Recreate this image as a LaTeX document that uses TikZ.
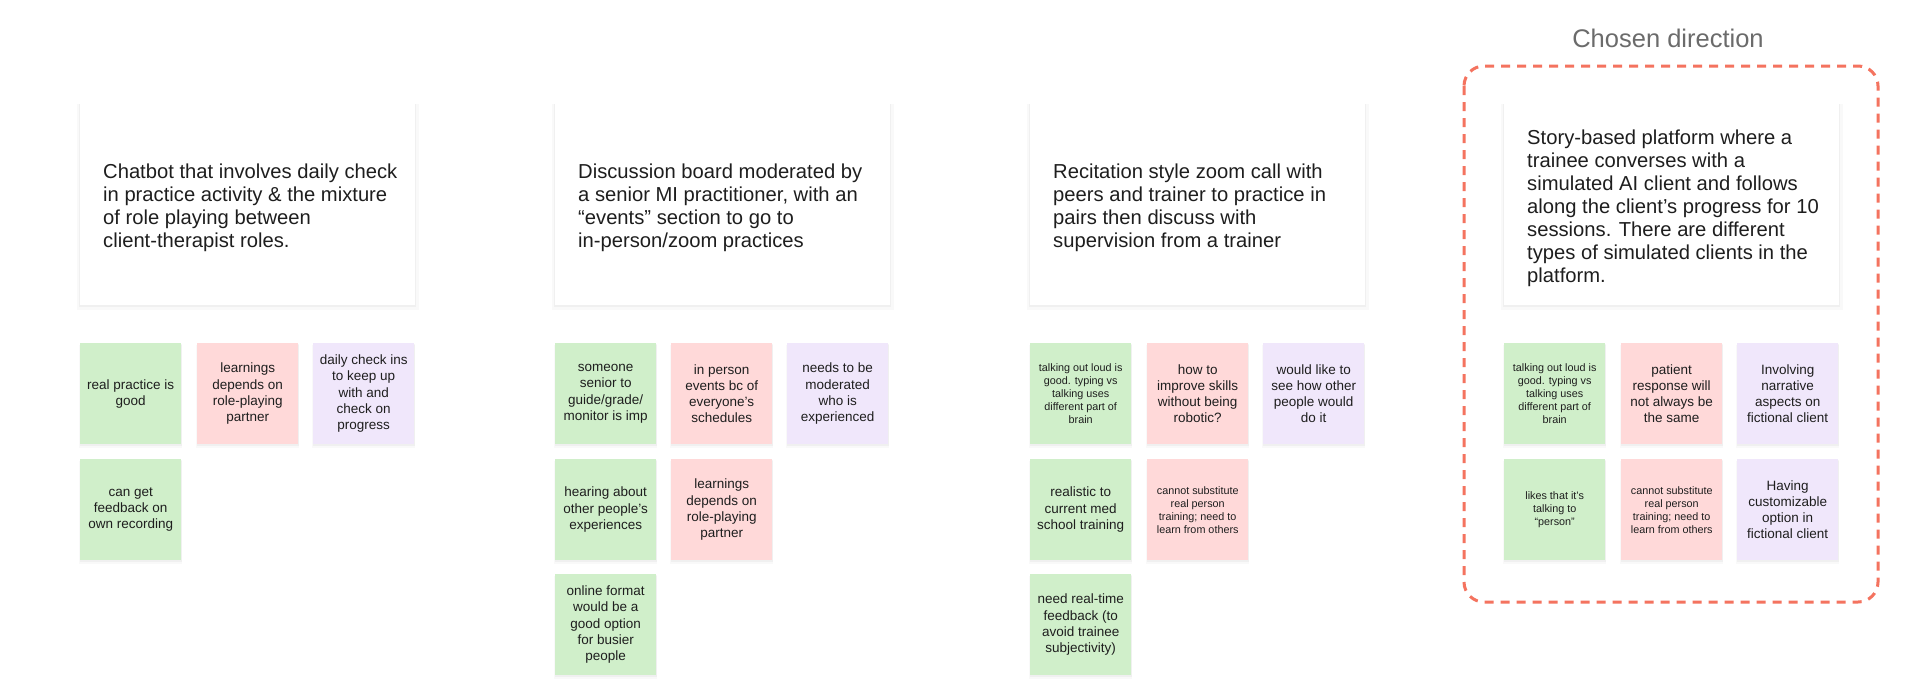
\documentclass[tikz,border=0pt]{standalone}
\usepackage{fontspec}
\setmainfont{Liberation Sans}
\usetikzlibrary{shadows}
\definecolor{stgreen}{HTML}{D0EFCA}
\definecolor{stpink}{HTML}{FFD9D9}
\definecolor{stpurple}{HTML}{F0E7FB}
\definecolor{dashred}{HTML}{F4735F}
\definecolor{txt}{HTML}{1E1E1E}
\definecolor{headgrey}{HTML}{6B6B6B}
\tikzset{
  softshadow/.style={
    general shadow={fill=black, opacity=0.025, shadow yshift=-3pt, shadow scale=1.02},
    general shadow={fill=black, opacity=0.035, shadow yshift=-1.5pt, shadow scale=1.006}},
  card/.style={rectangle, anchor=north west, fill=white, minimum width=335pt, minimum height=202pt, inner sep=0pt, softshadow},
  cardtext/.style={anchor=west, align=left, inner sep=0pt, text=txt, font=\fontsize{20.2}{23}\selectfont},
  sticky/.style={rectangle, anchor=north west, minimum width=101pt, minimum height=101pt, inner sep=0pt,
    align=center, text=txt, font=\fontsize{13.5}{16.3}\selectfont, softshadow},
  small/.style={font=\fontsize{10.8}{13}\selectfont},
  sg/.style={sticky, fill=stgreen},
  sp/.style={sticky, fill=stpink},
  su/.style={sticky, fill=stpurple},
}
\begin{document}
\begin{tikzpicture}[x=1pt, y=-1pt]
\useasboundingbox (0,0) rectangle (1920,699);
\fill[white] (0,0) rectangle (1920,699);

% Column 1
\node[card] (c1) at (80,103) {};
\node[cardtext] (t1) at ([xshift=23pt, yshift=-4pt]c1.west) {Chatbot that involves daily check\\in practice activity \& the mixture\\of role playing between\\client-therapist roles.};
\node[sg] (a11) at (80,343) {real practice is\\good};
\node[sp] (a12) at (197,343) {learnings\\depends on\\role-playing\\partner};
\node[su] (a13) at (313,343) {daily check ins\\to keep up\\with and\\check on\\progress};
\node[sg] (a21) at (80,459) {can get\\feedback on\\own recording};

% Column 2
\node[card] (c2) at (555,103) {};
\node[cardtext] (t2) at ([xshift=23pt, yshift=-4pt]c2.west) {Discussion board moderated by\\a senior MI practitioner, with an\\“events” section to go to\\in-person/zoom practices};
\node[sg] (b11) at (555,343) {someone\\senior to\\guide/grade/\\monitor is imp};
\node[sp] (b12) at (671,343) {in person\\events bc of\\everyone’s\\schedules};
\node[su] (b13) at (787,343) {needs to be\\moderated\\who is\\experienced};
\node[sg] (b21) at (555,459) {hearing about\\other people’s\\experiences};
\node[sp] (b22) at (671,459) {learnings\\depends on\\role-playing\\partner};
\node[sg] (b31) at (555,574) {online format\\would be a\\good option\\for busier\\people};

% Column 3
\node[card] (c3) at (1030,103) {};
\node[cardtext] (t3) at ([xshift=23pt, yshift=-4pt]c3.west) {Recitation style zoom call with\\peers and trainer to practice in\\pairs then discuss with\\supervision from a trainer};
\node[sg, small] (d11) at (1030,343) {talking out loud is\\good. typing vs\\talking uses\\different part of\\brain};
\node[sp] (d12) at (1147,343) {how to\\improve skills\\without being\\robotic?};
\node[su] (d13) at (1263,343) {would like to\\see how other\\people would\\do it};
\node[sg] (d21) at (1030,459) {realistic to\\current med\\school training};
\node[sp, small] (d22) at (1147,459) {cannot substitute\\real person\\training; need to\\learn from others};
\node[sg] (d31) at (1030,574) {need real-time\\feedback (to\\avoid trainee\\subjectivity)};

% Column 4 (chosen)
\node[text=headgrey, font=\fontsize{25.5}{29}\selectfont] (head) at (1668,38) {Chosen direction};
\draw[dashred, line width=3pt, rounded corners=20pt, dash pattern=on 9pt off 7pt] (1464,66) rectangle (1878,602);
\node[card] (c4) at (1504,103) {};
\node[cardtext] (t4) at ([xshift=23pt, yshift=-4pt]c4.west) {Story-based platform where a\\trainee converses with a\\simulated AI client and follows\\along the client’s progress for 10\\sessions. There are different\\types of simulated clients in the\\platform.};
\node[sg, small] (e11) at (1504,343) {talking out loud is\\good. typing vs\\talking uses\\different part of\\brain};
\node[sp] (e12) at (1621,343) {patient\\response will\\not always be\\the same};
\node[su] (e13) at (1737,343) {Involving\\narrative\\aspects on\\fictional client};
\node[sg, small] (e21) at (1504,459) {likes that it’s\\talking to\\“person”};
\node[sp, small] (e22) at (1621,459) {cannot substitute\\real person\\training; need to\\learn from others};
\node[su] (e23) at (1737,459) {Having\\customizable\\option in\\fictional client};
\end{tikzpicture}
\end{document}
